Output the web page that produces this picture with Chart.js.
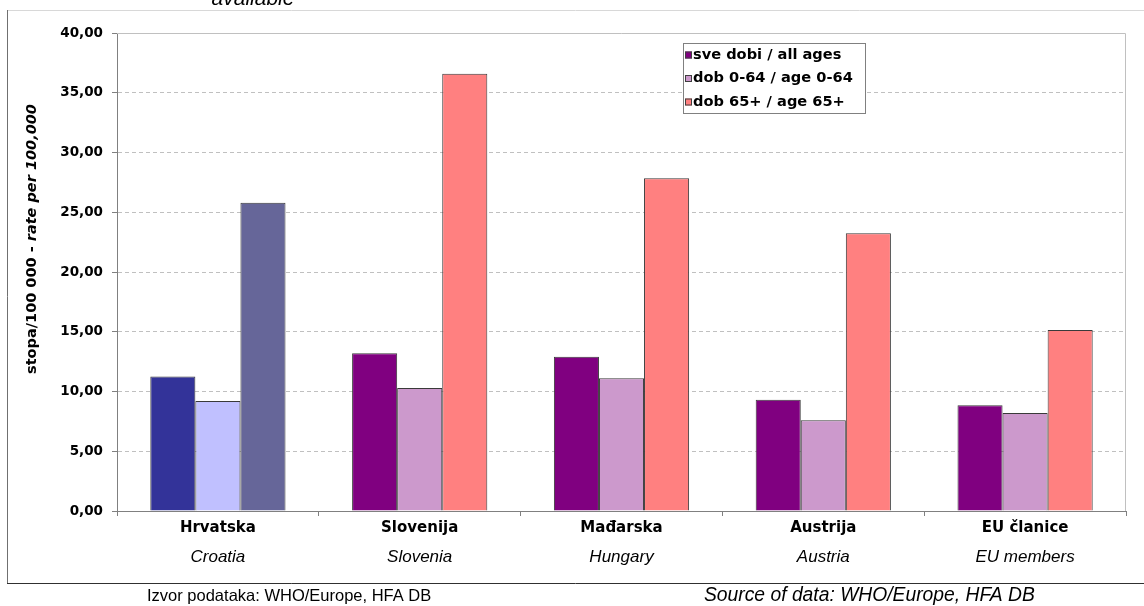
<!DOCTYPE html>
<html>
<head>
<meta charset="utf-8">
<script src="https://cdn.jsdelivr.net/npm/chart.js@4.4.0/dist/chart.umd.min.js"></script>
<style>
    html, body { margin: 0; padding: 0; background: #fff; }
    #wrap { width: 1144px; height: 606px; position: relative; }
</style>
</head>
<body>
<div id="wrap"><canvas id="chart" width="1144" height="606"></canvas></div>
<script>
/* ----- data ----- */
const
    CATEGORIES_HR = ["Hrvatska", "Slovenija", "Mađarska", "Austrija", "EU članice"],
    CATEGORIES_EN = ["Croatia", "Slovenia", "Hungary", "Austria", "EU members"],
    SERIES_LABELS = ["sve dobi / all ages", "dob 0-64 / age 0-64", "dob 65+ / age 65+"],
    ALL_AGES = [11.25, 13.2, 12.9, 9.3, 8.85],
    AGE_0_64 = [9.2, 10.3, 11.1, 7.6, 8.2],
    AGE_65_PLUS = [25.8, 36.6, 27.85, 23.25, 15.15],
    Y_MIN = 0, Y_MAX = 40, Y_STEP = 5;

/* ----- style ----- */
const
    SANS = "'Liberation Sans', Arial, sans-serif",
    WIDE = "'DejaVu Sans', 'Liberation Sans', sans-serif",
    SERIES_COLORS = ["#800080", "#CC99CC", "#FF8080"],
    CROATIA_COLORS = ["#333399", "#C0C0FF", "#666699"];

// Croatia is highlighted with its own palette
function barColors(i) {
    return CATEGORIES_HR.map((c, idx) => idx === 0 ? CROATIA_COLORS[i] : SERIES_COLORS[i]);
}

const decoPlugin = {
    id: "deco",
    beforeDraw(chart) {
        const ctx = chart.ctx;
        ctx.save();
        // outer frame
        ctx.lineWidth = 1;
        ctx.strokeStyle = "#d8d8d8";
        ctx.beginPath(); ctx.moveTo(7, 10.5); ctx.lineTo(1144, 10.5); ctx.stroke();
        ctx.strokeStyle = "#707070";
        ctx.beginPath(); ctx.moveTo(7.5, 10); ctx.lineTo(7.5, 583); ctx.stroke();
        ctx.strokeStyle = "#303030";
        ctx.beginPath(); ctx.moveTo(7, 583.5); ctx.lineTo(1144, 583.5); ctx.stroke();

        // cut-off note above the frame
        ctx.fillStyle = "#000";
        ctx.font = "italic 21px " + SANS;
        ctx.textAlign = "center";
        ctx.textBaseline = "alphabetic";
        ctx.fillText("available", 253, 5);

        // source lines
        ctx.textAlign = "left";
        ctx.textBaseline = "middle";
        ctx.font = "16.5px " + SANS;
        ctx.fillText("Izvor podataka: WHO/Europe, HFA DB", 147, 596);
        ctx.font = "italic 19.3px " + SANS;
        ctx.fillText("Source of data: WHO/Europe, HFA DB", 704, 596);
        ctx.restore();
    },
    beforeDatasetsDraw(chart) {
        const {ctx, chartArea: a} = chart;
        ctx.save();
        ctx.strokeStyle = "#c0c0c0";
        ctx.lineWidth = 1;
        ctx.beginPath();
        ctx.moveTo(a.left, a.top + 0.5);
        ctx.lineTo(a.right - 0.5, a.top + 0.5);
        ctx.lineTo(a.right - 0.5, a.bottom);
        ctx.stroke();
        ctx.restore();
    },
    afterDraw(chart) {
        const ctx = chart.ctx, x = chart.scales.x;
        ctx.save();

        // english category names under the croatian ticks
        ctx.fillStyle = "#000";
        ctx.font = "italic 17px " + SANS;
        ctx.textAlign = "center";
        ctx.textBaseline = "middle";
        CATEGORIES_EN.forEach((t, i) => ctx.fillText(t, x.getPixelForValue(i), 557));

        // y title: normal + italic part
        ctx.translate(32, 239);
        ctx.rotate(-Math.PI / 2);
        const p1 = "stopa/100 000 - ", p2 = "rate per 100,000";
        ctx.font = "bold 14.5px " + WIDE;
        const w1 = ctx.measureText(p1).width;
        ctx.font = "italic bold 14.5px " + WIDE;
        const w2 = ctx.measureText(p2).width;
        let sx = -(w1 + w2) / 2;
        ctx.textAlign = "left";
        ctx.font = "bold 14.5px " + WIDE;
        ctx.fillText(p1, sx, 0);
        ctx.font = "italic bold 14.5px " + WIDE;
        ctx.fillText(p2, sx + w1, 0);
        ctx.restore();

        // legend box
        ctx.save();
        ctx.fillStyle = "#fff";
        ctx.strokeStyle = "#808080";
        ctx.lineWidth = 1;
        ctx.fillRect(683, 43, 182, 70);
        ctx.strokeRect(683.5, 43.5, 182, 70);
        ctx.font = "bold 14.6px " + WIDE;
        ctx.textBaseline = "middle";
        ctx.textAlign = "left";
        chart.data.datasets.forEach((ds, i) => {
            const cy = 55 + i * 23.5;
            ctx.fillStyle = SERIES_COLORS[i];
            ctx.fillRect(685, cy - 3.5, 7, 7);
            ctx.strokeStyle = "#404040";
            ctx.strokeRect(685.5, cy - 3, 6, 6);
            ctx.fillStyle = "#000";
            ctx.fillText(ds.label, 693, cy);
        });
        ctx.restore();
    }
};

const config = {
    type: "bar",
    data: {
        labels: CATEGORIES_HR,
        datasets: [
            { label: SERIES_LABELS[0], data: ALL_AGES, backgroundColor: barColors(0) },
            { label: SERIES_LABELS[1], data: AGE_0_64, backgroundColor: barColors(1) },
            { label: SERIES_LABELS[2], data: AGE_65_PLUS, backgroundColor: barColors(2) },
        ],
    },
    options: {
        responsive: false,
        animation: false,
        layout: { padding: { top: 33, right: 18, left: 0, bottom: 0 } },
        datasets: {
            bar: {
                categoryPercentage: 0.67,
                barPercentage: 1,
                borderWidth: 1,
                borderColor: "#3a3a3a",
            },
        },
        plugins: {
            legend: { display: false },
            tooltip: { enabled: false },
        },
        scales: {
            x: {
                grid: { offset: true, drawOnChartArea: false, drawTicks: true, tickLength: 5, tickColor: "#808080" },
                border: { color: "#808080" },
                ticks: { color: "#000", padding: 3, font: { family: WIDE, size: 15, weight: "bold" } },
                afterFit: (s) => { s.height = 95; },
            },
            y: {
                min: Y_MIN,
                max: Y_MAX,
                ticks: {
                    stepSize: Y_STEP,
                    color: "#000",
                    padding: 9,
                    font: { family: WIDE, size: 13.5, weight: "bold" },
                    callback: (v) => v.toFixed(2).replace(".", ","),
                },
                grid: { color: "#c0c0c0", tickColor: "#808080", tickLength: 5, tickBorderDash: [] },
                border: { color: "#808080", dash: [4, 3] },
                afterFit: (s) => { s.width = 117; },
            },
        },
    },
    plugins: [decoPlugin],
};

window.chart = new Chart(document.getElementById("chart"), config);
</script>
</body>
</html>
